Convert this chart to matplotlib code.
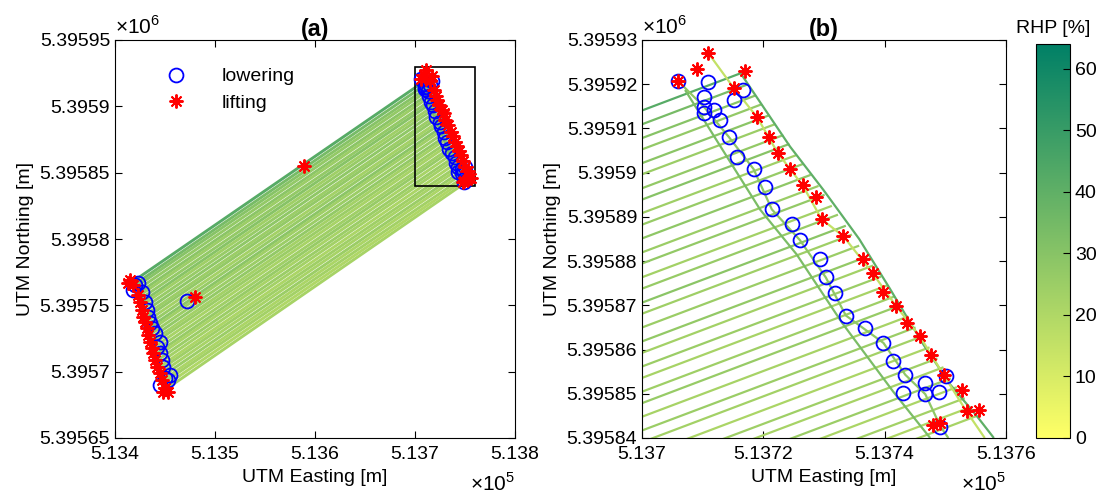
import numpy as np
import matplotlib.pyplot as plt
from matplotlib.collections import LineCollection
from matplotlib.colors import Normalize
from matplotlib.cm import ScalarMappable
from matplotlib.ticker import FuncFormatter
from matplotlib.patches import Rectangle

plt.rcParams['font.family'] = ['Liberation Sans', 'DejaVu Sans']
plt.rcParams['mathtext.fontset'] = 'custom'
plt.rcParams['mathtext.rm'] = 'Liberation Sans'
plt.rcParams['font.size'] = 14

# ---- field passes: lower-left start -> upper-right end (UTM, m) and RHP [%]
pass_e0 = [513418.0, 513419.1, 513419.9, 513421.0, 513422.1, 513422.9, 513424.0,
           513425.0, 513425.9, 513427.0, 513428.0, 513429.1, 513430.0, 513431.0,
           513432.1, 513433.2, 513434.0, 513435.1, 513436.1, 513437.2, 513438.1,
           513439.1, 513440.2, 513441.3, 513442.1, 513443.2, 513444.3, 513445.3,
           513446.2, 513447.2, 513448.3, 513449.4, 513450.2, 513451.3, 513452.4]
pass_n0 = [5395768.0, 5395765.5, 5395763.5, 5395761.0, 5395758.5, 5395756.5, 5395754.0,
           5395751.5, 5395749.5, 5395747.0, 5395744.5, 5395742.0, 5395740.0, 5395737.5,
           5395735.0, 5395732.5, 5395730.5, 5395728.0, 5395725.5, 5395723.0, 5395721.0,
           5395718.5, 5395716.0, 5395713.5, 5395711.5, 5395709.0, 5395706.5, 5395704.0,
           5395702.0, 5395699.5, 5395697.0, 5395694.5, 5395692.5, 5395690.0, 5395687.5]
pass_e1 = [513716.3, 513717.5, 513718.8, 513719.8, 513721.0, 513722.0, 513723.3,
           513724.3, 513725.5, 513726.6, 513727.8, 513729.1, 513730.1, 513731.3,
           513732.3, 513733.6, 513734.6, 513735.8, 513737.1, 513738.1, 513739.4,
           513740.4, 513741.6, 513742.6, 513743.9, 513745.1, 513746.2, 513747.4,
           513748.7, 513749.7, 513750.9, 513751.9, 513753.2, 513754.2, 513755.2]
pass_n1 = [5395922.5, 5395920.0, 5395917.5, 5395915.5, 5395913.0, 5395911.0, 5395908.5,
           5395906.5, 5395904.0, 5395902.0, 5395899.5, 5395897.0, 5395895.0, 5395892.5,
           5395890.5, 5395888.0, 5395886.0, 5395883.5, 5395881.0, 5395879.0, 5395876.5,
           5395874.5, 5395872.0, 5395870.0, 5395867.5, 5395865.0, 5395863.0, 5395860.5,
           5395858.0, 5395856.0, 5395853.5, 5395851.5, 5395849.0, 5395847.0, 5395845.0]
pass_rhp = [42, 34, 30, 27, 29, 25, 27, 30, 24, 26, 28, 25, 27, 23, 26, 29, 24, 25,
            27, 23, 25, 22, 24, 26, 22, 25, 23, 21, 24, 22, 25, 21, 23, 20, 22]

# ---- headland tracks at the upper-right end
outer_e = [513716.0, 513724.4, 513729.9, 513735.8, 513740.8, 513746.4, 513750.8, 513755.0, 513758.0]
outer_n = [5395923.0, 5395905.9, 5395896.1, 5395885.0, 5395873.9, 5395861.1, 5395852.1, 5395845.3, 5395840.0]
liftrow_e = [513710.9, 513715.1, 513719.0, 513722.4, 513726.5, 513729.6, 513733.2, 513738.0,
             513741.9, 513745.8, 513749.7, 513753.5, 513756.5]
liftrow_n = [5395927.1, 5395919.2, 5395912.5, 5395904.4, 5395897.1, 5395889.5, 5395885.6, 5395877.3,
             5395869.8, 5395863.0, 5395854.3, 5395846.0, 5395840.0]
lowrow_e = [513705.9, 513710.2, 513714.3, 513718.4, 513721.4, 513726.0, 513730.3, 513733.6,
            513739.8, 513743.4, 513746.7, 513749.2, 513750.5]
lowrow_n = [5395920.8, 5395914.9, 5395908.1, 5395900.8, 5395891.7, 5395884.8, 5395876.3, 5395867.7,
            5395861.5, 5395854.3, 5395849.9, 5395842.6, 5395840.0]
edge_e = [513707.1, 513714.0, 513719.5, 513725.5, 513733.0, 513741.4, 513747.5]
edge_n = [5395918.7, 5395903.6, 5395891.6, 5395881.5, 5395866.0, 5395850.5, 5395840.0]
track_rhp = [40, 15, 28, 33]

# ---- lowering (circles) and lifting (stars) events
low_e = [513705.9, 513710.8, 513710.2, 513710.2, 513710.2, 513711.9, 513712.9, 513716.7,
         513715.2, 513714.3, 513715.7, 513718.4, 513720.2, 513721.4, 513724.7, 513726.0,
         513729.3, 513730.3, 513731.8, 513733.6, 513736.8, 513739.8, 513741.3, 513743.4,
         513746.7, 513750.1, 513743.1, 513746.7, 513748.9, 513749.2,
         513423.3, 513418.3, 513426.7, 513420.0, 513430.0, 513431.7, 513433.3, 513435.0,
         513436.7, 513440.0, 513445.0, 513441.7, 513445.0, 513446.7, 513448.3, 513455.0,
         513450.0, 513445.0, 513453.3, 513472.3]
low_n = [5395920.8, 5395920.6, 5395917.2, 5395914.9, 5395913.4, 5395914.2, 5395911.9, 5395918.8,
         5395916.4, 5395908.1, 5395903.6, 5395900.8, 5395896.8, 5395891.7, 5395888.3, 5395884.8,
         5395880.5, 5395876.3, 5395872.8, 5395867.7, 5395864.9, 5395861.5, 5395857.5, 5395854.3,
         5395852.4, 5395854.1, 5395850.2, 5395849.9, 5395850.3, 5395842.6,
         5395766.6, 5395761.6, 5395760.3, 5395765.4, 5395752.8, 5395746.5, 5395741.5, 5395736.5,
         5395732.7, 5395728.9, 5395722.6, 5395718.9, 5395713.8, 5395708.8, 5395703.8, 5395697.5,
         5395695.0, 5395690.0, 5395693.7, 5395753.0]
lift_e = [513705.9, 513709.1, 513710.9, 513716.9, 513715.1, 513719.0, 513720.9, 513722.4,
          513724.4, 513726.5, 513728.7, 513729.6, 513733.2, 513736.4, 513738.0, 513739.8,
          513741.9, 513743.6, 513745.8, 513747.7, 513749.7, 513752.7, 513753.5, 513755.5,
          513748.0, 513749.1,
          513415.0, 513418.3, 513413.3, 513423.3, 513425.0, 513426.7, 513428.3, 513430.0,
          513431.7, 513433.3, 513435.0, 513436.7, 513438.3, 513440.0, 513441.7, 513445.0,
          513446.7, 513450.0, 513453.3, 513448.3, 513480.0, 513589.3]
lift_n = [5395920.8, 5395923.4, 5395927.1, 5395923.1, 5395919.2, 5395912.5, 5395908.1, 5395904.4,
          5395900.8, 5395897.1, 5395894.6, 5395889.5, 5395885.6, 5395880.5, 5395877.3, 5395873.0,
          5395869.8, 5395866.0, 5395863.0, 5395858.7, 5395854.3, 5395850.9, 5395846.0, 5395846.3,
          5395843.0, 5395843.4,
          5395769.1, 5395765.4, 5395766.6, 5395757.8, 5395752.8, 5395746.5, 5395741.5, 5395737.7,
          5395732.7, 5395727.7, 5395722.6, 5395717.6, 5395713.8, 5395708.8, 5395703.8, 5395698.8,
          5395693.7, 5395687.5, 5395685.0, 5395685.0, 5395756.5, 5395855.0]

cmap = plt.get_cmap('summer_r')
norm = Normalize(0, 64)


def draw(ax, lw):
    segs = [[(pass_e0[i], pass_n0[i]), (pass_e1[i], pass_n1[i])] for i in range(len(pass_e0))]
    ax.add_collection(LineCollection(segs, cmap=cmap, norm=norm, array=np.array(pass_rhp), lw=lw))
    tracks = [list(zip(outer_e, outer_n)), list(zip(liftrow_e, liftrow_n)),
              list(zip(lowrow_e, lowrow_n)), list(zip(edge_e, edge_n))]
    ax.add_collection(LineCollection(tracks, cmap=cmap, norm=norm, array=np.array(track_rhp), lw=1.6))
    h1, = ax.plot(low_e, low_n, 'o', ls='none', mfc='none', mec='b', ms=10, mew=1.3, zorder=4)
    h2, = ax.plot(lift_e, lift_n, marker=(8, 2, 0), ls='none', color='r', ms=10, mew=1.4, zorder=5)
    return h1, h2


def style(ax, xlim, ylim, xstep, ystep, title):
    ax.set_xlim(xlim)
    ax.set_ylim(ylim)
    ax.set_xticks(np.arange(xlim[0], xlim[1] + 1, xstep))
    ax.set_yticks(np.arange(ylim[0], ylim[1] + 1, ystep))
    ax.xaxis.set_major_formatter(FuncFormatter(lambda v, p: f"{v / 1e5:.5g}"))
    ax.yaxis.set_major_formatter(FuncFormatter(lambda v, p: f"{v / 1e6:.6g}"))
    ax.tick_params(direction='in', top=True, right=True, length=5, width=0.8, labelsize=14)
    ax.tick_params(axis='x', pad=6)
    for s in ax.spines.values():
        s.set_linewidth(0.8)
    ax.set_xlabel('UTM Easting [m]', labelpad=4)
    ax.set_ylabel('UTM Northing [m]', labelpad=4)
    ax.set_title(title, fontweight='bold', pad=3)
    ax.text(0.0, 1.005, r'$\times$10$^6$', transform=ax.transAxes, ha='left', va='bottom', fontsize=15)
    ax.text(1.0, -0.085, r'$\times$10$^5$', transform=ax.transAxes, ha='right', va='top', fontsize=15)


fig = plt.figure(figsize=(11.04, 4.97), dpi=100)
ax1 = fig.add_axes([115 / 1104, 59 / 497, 400 / 1104, 398 / 497])
ax2 = fig.add_axes([642 / 1104, 59 / 497, 364 / 1104, 398 / 497])
cax = fig.add_axes([1036 / 1104, 59 / 497, 34 / 1104, 394 / 497])

h_low, h_lift = draw(ax1, 2.1)
draw(ax2, 1.6)
style(ax1, (513400, 513800), (5395650, 5395950), 100, 50, '(a)')
style(ax2, (513700, 513760), (5395840, 5395930), 20, 10, '(b)')

# zoom window of panel (b) drawn in panel (a)
ax1.add_patch(Rectangle((513700, 5395840), 60, 90, fill=False, ec='k', lw=1.2, zorder=3))

ax1.legend([h_low, h_lift], ['lowering', 'lifting'], loc='upper left',
           bbox_to_anchor=(0.105, 0.93), frameon=False, borderpad=0, borderaxespad=0,
           labelspacing=0.45, handletextpad=1.3, fontsize=14)

cb = fig.colorbar(ScalarMappable(norm=norm, cmap=cmap), cax=cax)
cb.set_ticks(np.arange(0, 61, 10))
cax.tick_params(direction='in', length=5, width=0.8, labelsize=14)
cb.outline.set_linewidth(0.8)
cax.set_title('RHP [%]', fontsize=14, pad=8)

fig.savefig('out.png', dpi=100)
